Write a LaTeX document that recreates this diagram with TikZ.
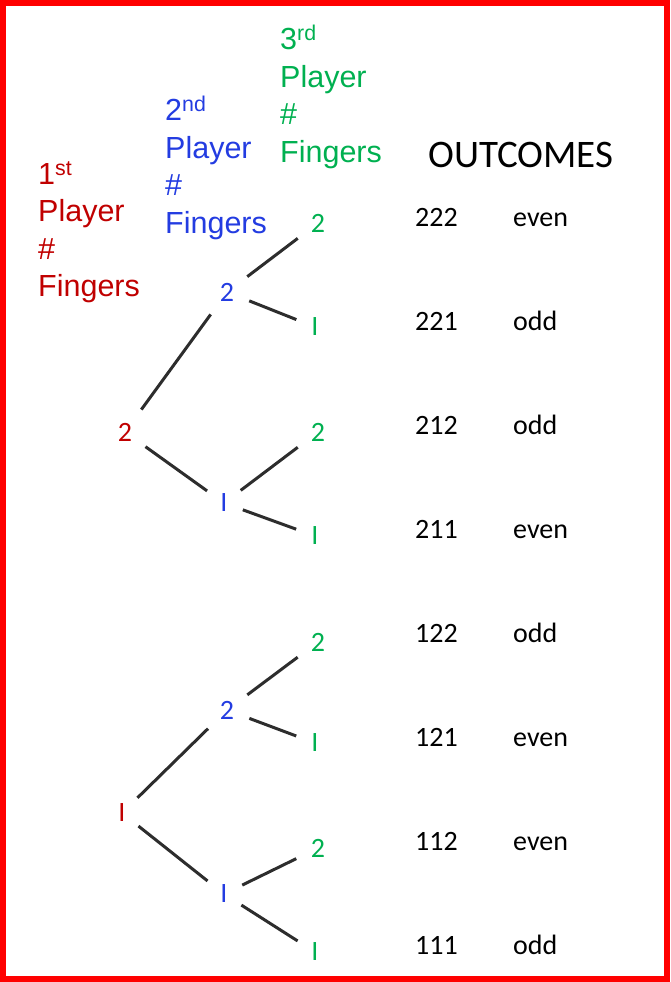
\documentclass[tikz,border=0pt]{standalone}
\usepackage{fontspec}
\setmainfont{Carlito}
\newfontfamily\headfont{Liberation Sans}
\definecolor{pred}{RGB}{192,0,0}
\definecolor{pblue}{RGB}{35,60,225}
\definecolor{pgreen}{RGB}{0,176,80}
\definecolor{branchc}{RGB}{45,45,45}
\begin{document}
\begin{tikzpicture}[x=1pt,y=-1pt,
  head/.style={font=\headfont\fontsize{30.5}{37.5}\selectfont, align=left, anchor=north west, inner sep=0},
  num/.style={font=\fontsize{28}{30}\selectfont, inner sep=1pt},
  branch/.style={draw=branchc, line width=3pt, shorten <=15pt, shorten >=15pt},
  outtext/.style={font=\fontsize{28}{30}\selectfont, anchor=base west, inner sep=0}]
\useasboundingbox (0,0) rectangle (670,982);
\draw[red, line width=6pt] (3,3) rectangle (667,979);
% column heads
\node[head, text=pred] (h1) at (38,161) {1\textsuperscript{st}\\Player\\\#\\Fingers};
\node[head, text=pblue] (h2) at (165,96) {2\textsuperscript{nd}\\Player\\\#\\Fingers};
\node[head, text=pgreen] (h3) at (280,25) {3\textsuperscript{rd}\\Player\\\#\\Fingers};
\node[font=\fontsize{39}{40}\selectfont, anchor=base west, inner sep=0] (outc) at (428,167) {OUTCOMES};
% tree
\node[num, text=pred] (a2) at (125,432) {2};
\node[num, text=pred] (a1) at (122,813) {I};
\node[num, text=pblue] (a22) at (227,292) {2};
\node[num, text=pblue] (a21) at (224,503) {I};
\node[num, text=pblue] (a12) at (227,710) {2};
\node[num, text=pblue] (a11) at (224,894) {I};
\node[num, text=pgreen] (a222) at (318,223) {2};
\node[num, text=pgreen] (a221) at (315,327) {I};
\node[num, text=pgreen] (a212) at (318,432) {2};
\node[num, text=pgreen] (a211) at (315,536) {I};
\node[num, text=pgreen] (a122) at (318,642) {2};
\node[num, text=pgreen] (a121) at (315,743) {I};
\node[num, text=pgreen] (a112) at (318,848) {2};
\node[num, text=pgreen] (a111) at (315,952) {I};
\draw[branch] (a2) -- (a22);
\draw[branch] (a2) -- (a21);
\draw[branch] (a1) -- (a12);
\draw[branch] (a1) -- (a11);
\draw[branch] (a22) -- (a222);
\draw[branch] (a22) -- (a221);
\draw[branch] (a21) -- (a212);
\draw[branch] (a21) -- (a211);
\draw[branch] (a12) -- (a122);
\draw[branch] (a12) -- (a121);
\draw[branch] (a11) -- (a112);
\draw[branch] (a11) -- (a111);
% outcomes
\foreach \res/\pty [count=\i from 0] in {222/even,221/odd,212/odd,211/even,122/odd,121/even,112/even,111/odd}{
  \node[outtext] (n\res) at (415,{226+104.1*\i}) {\res};
  \node[outtext] (p\res) at (513,{226+104.1*\i}) {\pty};
}
\end{tikzpicture}
\end{document}
